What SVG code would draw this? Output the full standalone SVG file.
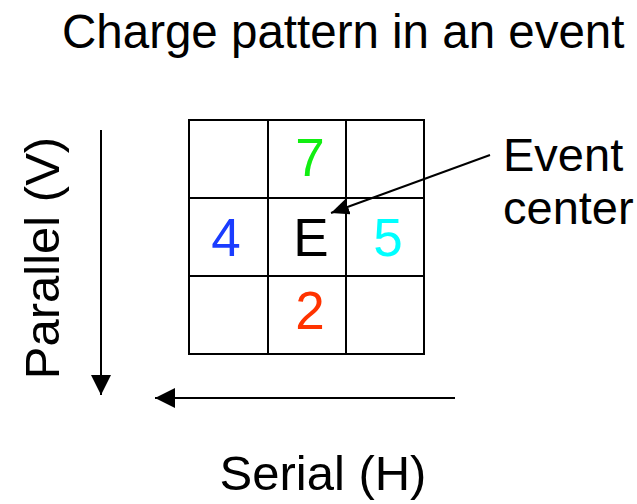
<svg xmlns="http://www.w3.org/2000/svg" width="637" height="504" viewBox="0 0 637 504">
<style>
text{font-family:"Liberation Sans",Arial,sans-serif;fill:#000}
.lbl{font-size:47px}
.cell{font-size:53px;text-anchor:middle}
.grid{fill:none;stroke:#000;stroke-width:2}
.arr{stroke:#000;stroke-width:2;fill:none}
</style>
<defs>
<marker id="ah" markerUnits="userSpaceOnUse" markerWidth="22" markerHeight="22" refX="20" refY="10" orient="auto">
<path d="M0,0 L20,10 L0,20 Z" fill="#000"/>
</marker>
<marker id="ahs" markerUnits="userSpaceOnUse" markerWidth="20" markerHeight="20" refX="18" refY="8" orient="auto">
<path d="M0,0 L18,8 L0,16 Z" fill="#000"/>
</marker>
</defs>
<rect width="637" height="504" fill="#fff"/>
<text id="title" class="lbl" x="62" y="48" style="font-size:47.5px">Charge pattern in an event</text>
<g id="grid">
<rect class="grid" x="189" y="120" width="235" height="234"/>
<line class="grid" x1="268" y1="120" x2="268" y2="354"/>
<line class="grid" x1="346" y1="120" x2="346" y2="354"/>
<line class="grid" x1="189" y1="198" x2="424" y2="198"/>
<line class="grid" x1="189" y1="276" x2="424" y2="276"/>
</g>
<g id="cell-7"><text class="cell" x="310" y="176" style="fill:#11ee11">7</text></g>
<g id="cell-4"><text class="cell" x="226" y="256" style="fill:#1a3cff">4</text></g>
<g id="cell-E"><text class="cell" x="311" y="256">E</text></g>
<g id="cell-5"><text class="cell" x="388" y="256" style="fill:#00ffff">5</text></g>
<g id="cell-2"><text class="cell" x="310" y="329" style="fill:#ff3300">2</text></g>
<g id="event-center"><text class="lbl" x="503" y="171">Event</text><text class="lbl" x="503" y="224">center</text></g>
<g id="parallel"><text class="lbl" transform="translate(59,258) rotate(-90)" text-anchor="middle" style="font-size:49px">Parallel (V)</text></g>
<g id="serial"><text class="lbl" x="323" y="490" text-anchor="middle" style="font-size:49px">Serial (H)</text></g>
<g id="connectors">
<line class="arr" x1="490" y1="155" x2="331" y2="213" marker-end="url(#ahs)"/>
<line class="arr" x1="101" y1="130" x2="101" y2="395" marker-end="url(#ah)"/>
<line class="arr" x1="455" y1="398" x2="155" y2="398" marker-end="url(#ah)"/>
</g>
</svg>
